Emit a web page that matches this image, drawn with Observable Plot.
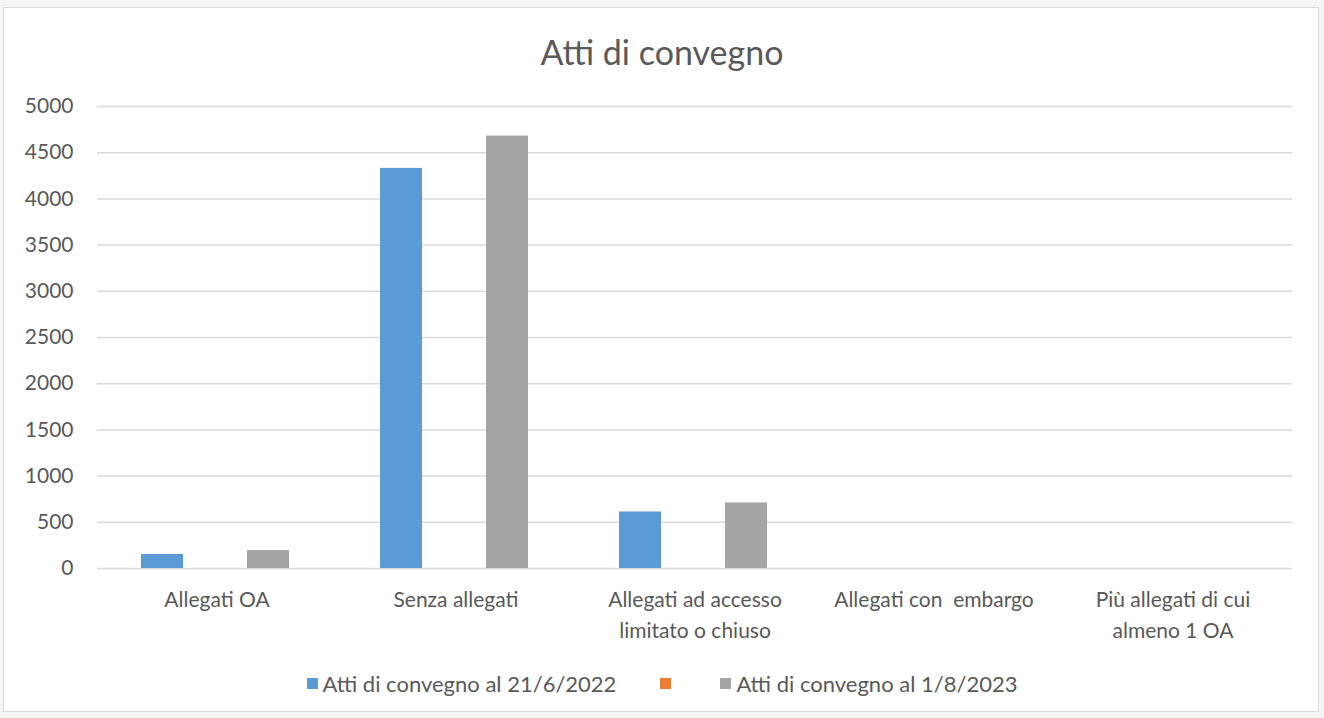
<!DOCTYPE html>
<html>
<head>
<meta charset="utf-8">
<script src="https://cdn.jsdelivr.net/npm/d3@7"></script>
<script src="https://cdn.jsdelivr.net/npm/@observablehq/plot@0.6"></script>
<style>
  html, body { margin: 0; padding: 0; background: #f5f5f5; }
  #frame { position: absolute; left: 3px; top: 7px; width: 1314px; height: 703px; background: #fff; border: 1.5px solid #d9d9d9; }
  #title { position: absolute; left: 0; top: 31px; width: 1324px; text-align: center; font-family: Lato, sans-serif; font-size: 34px; color: #595959; }
  #chart { position: absolute; left: 0; top: 80px; }
  #legend { position: absolute; left: 0; top: 667px; width: 1324px; text-align: center; font-family: Lato, sans-serif; font-size: 22px; color: #595959; white-space: nowrap; }
  #legend span.item { display: inline-flex; align-items: center; margin: 0 22px; }
  #legend span.sw { display: inline-block; width: 11px; height: 11px; margin-right: 5px; }
  svg text { white-space: pre; }
</style>
</head>
<body>
<div id="frame"></div>
<div id="title">Atti di convegno</div>
<div id="chart"></div>
<div id="legend"></div>
<script>
const categories = ["Allegati OA", "Senza allegati", "Allegati ad accesso limitato o chiuso", "Allegati con  embargo", "Più allegati di cui almeno 1 OA"];
const tickLabels = ["Allegati OA", "Senza allegati", "Allegati ad accesso\nlimitato o chiuso", "Allegati con  embargo", "Più allegati di cui\nalmeno 1 OA"];
const series = ["Atti di convegno al 21/6/2022", "", "Atti di convegno al 1/8/2023"];
const colors = ["#5B9BD5", "#ED7D31", "#A5A5A5"];
const values2022 = [152, 4330, 612, 0, 0];
const valuesEmpty = [0, 0, 0, 0, 0];
const values2023 = [195, 4680, 710, 0, 0];
const yTicks = [0, 500, 1000, 1500, 2000, 2500, 3000, 3500, 4000, 4500, 5000];

const seriesValues = [values2022, valuesEmpty, values2023];
const data = [];
categories.forEach((c, i) => {
  series.forEach((s, j) => data.push({category: c, series: s, value: seriesValues[j][i]}));
});
const labelOf = new Map(categories.map((c, i) => [c, tickLabels[i]]));

const chart = Plot.plot({
  width: 1324,
  height: 570,
  marginLeft: 96,
  marginRight: 32,
  marginTop: 26,
  marginBottom: 82,
  style: {fontFamily: "Lato, sans-serif", color: "#595959", background: "transparent"},
  fx: {domain: categories, padding: 0, axis: null},
  x: {domain: series, paddingInner: 0.215, paddingOuter: 0.843, align: 0.48, axis: null},
  y: {domain: [0, 5000], axis: null},
  color: {domain: series, range: colors},
  marks: [
    Plot.gridY(yTicks, {stroke: "#d9d9d9", strokeOpacity: 1, strokeWidth: 1.5}),
    Plot.axisY(yTicks, {tickSize: 0, tickPadding: 24, fontSize: 21, fill: "#595959", tickFormat: d => String(d), label: null}),
    Plot.axisFx({anchor: "bottom", tickSize: 0, tickPadding: 17, fontSize: 21, lineHeight: 1.45, fill: "#595959", tickFormat: d => labelOf.get(d), label: null}),
    Plot.barY(data, {fx: "category", x: "series", y: "value", fill: "series"})
  ]
});
document.getElementById("chart").appendChild(chart);

const legend = document.getElementById("legend");
series.forEach((s, j) => {
  const item = document.createElement("span");
  item.className = "item";
  const sw = document.createElement("span");
  sw.className = "sw";
  sw.style.background = colors[j];
  item.appendChild(sw);
  item.appendChild(document.createTextNode(s));
  legend.appendChild(item);
});
</script>
</body>
</html>
